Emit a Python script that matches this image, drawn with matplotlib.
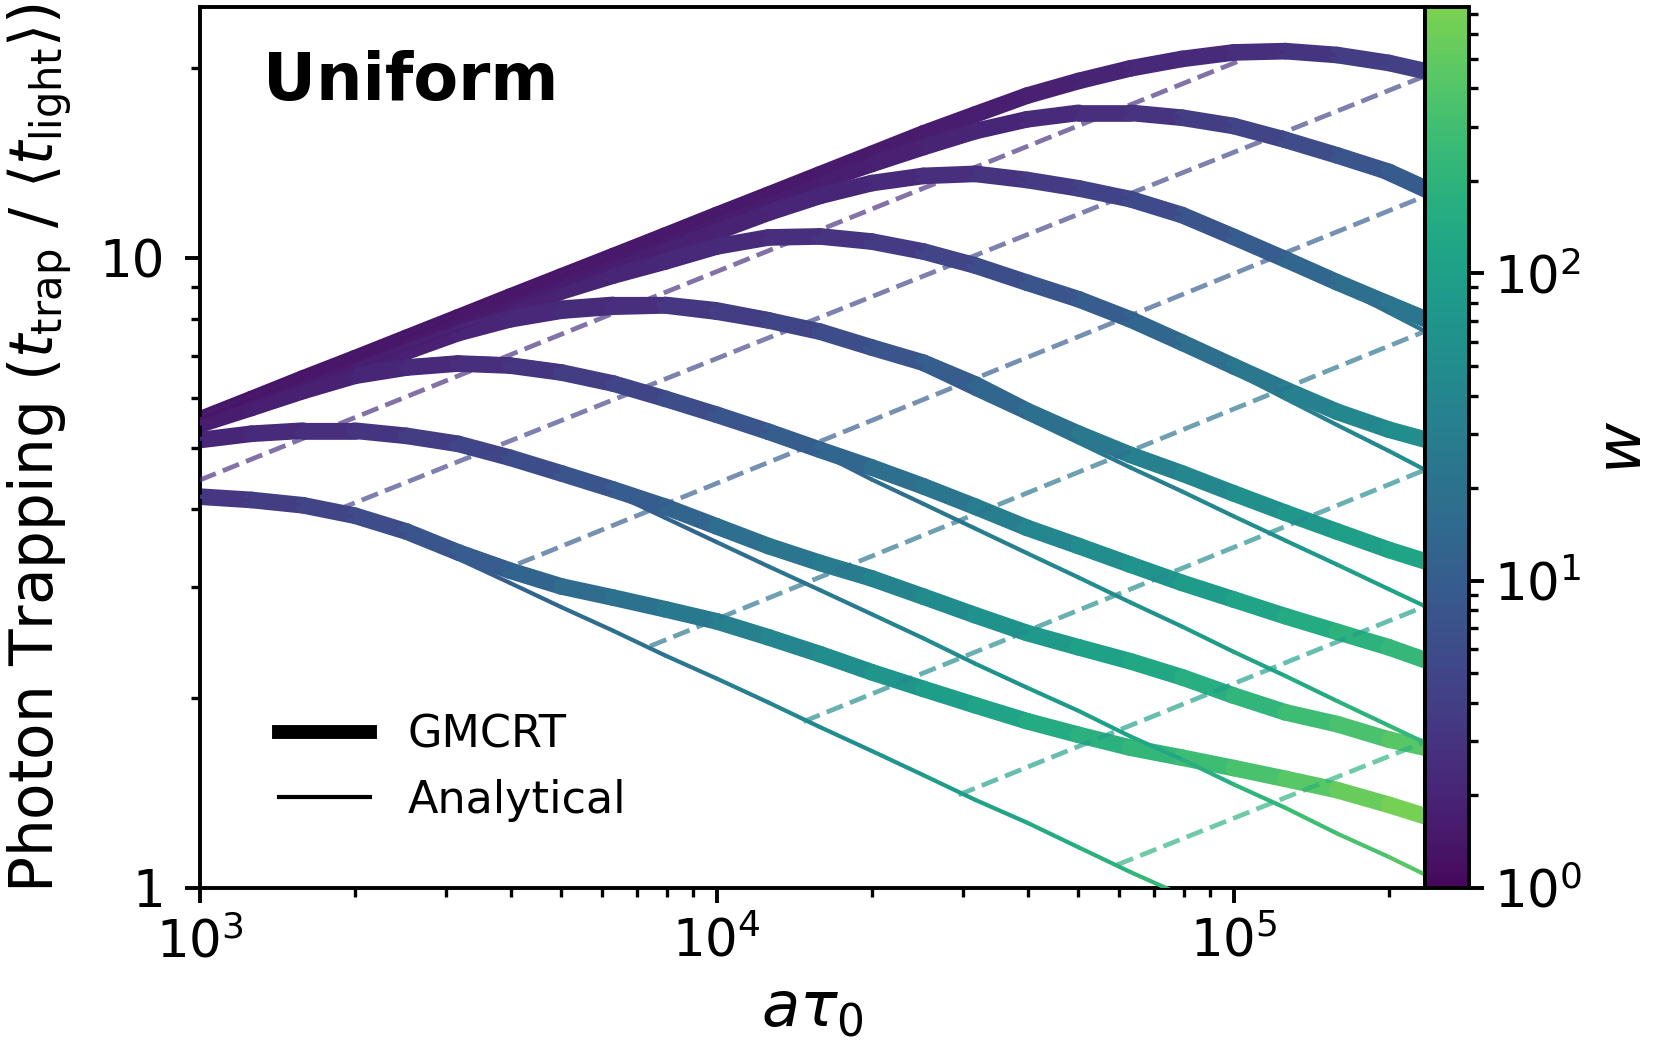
import numpy as np
import matplotlib
matplotlib.use('Agg')
import matplotlib.pyplot as plt
import matplotlib.ticker as ticker
from matplotlib.collections import LineCollection
from matplotlib.colors import LogNorm, ListedColormap
from matplotlib.lines import Line2D
from matplotlib.cm import ScalarMappable

plt.rcParams['mathtext.fontset'] = 'dejavusans'

# a*tau0 grid of the curves
a_tau = [1000, 1259, 1585, 1995, 2512, 3162, 3981, 5012, 6310, 7943,
         10000, 12589, 15849, 19953, 25119, 31623, 39811, 50119, 63096,
         79433, 100000, 125893, 158489, 199526, 234423]

# GMCRT curves (photon trapping)
gm_1 = [5.54, 5.97, 6.44, 6.93, 7.47, 8.05, 8.68, 9.35, 10.07, 10.85, 11.70, 12.60,
        13.58, 14.63, 15.77, 16.9, 18.1, 19.1, 20.0, 20.7, 21.2, 21.3, 21.0, 20.4, 19.8]
gm_2 = [5.52, 5.93, 6.39, 6.87, 7.40, 7.96, 8.57, 9.22, 9.92, 10.67, 11.48, 12.33,
        13.22, 14.1, 15.0, 15.9, 16.6, 17.0, 17.0, 16.7, 16.2, 15.4, 14.55, 13.7, 12.9]
gm_3 = [5.50, 5.90, 6.34, 6.80, 7.31, 7.85, 8.43, 9.05, 9.70, 10.28, 11.0, 11.8,
        12.55, 13.15, 13.5, 13.6, 13.3, 12.9, 12.4, 11.7, 10.8, 9.95, 9.15, 8.45, 8.0]
gm_4 = [5.48, 5.87, 6.29, 6.73, 7.2, 7.7, 8.28, 8.85, 9.38, 9.87, 10.43, 10.78,
        10.82, 10.62, 10.24, 9.73, 9.14, 8.6, 7.99, 7.34, 6.73, 6.18, 5.70, 5.34, 5.15]
gm_5 = [5.46, 5.83, 6.22, 6.65, 7.1, 7.6, 7.99, 8.25, 8.37, 8.41, 8.22, 7.96,
        7.64, 7.21, 6.82, 6.30, 5.72, 5.26, 4.87, 4.55, 4.23, 3.94, 3.68, 3.44, 3.30]
gm_6 = [5.44, 5.78, 6.15, 6.5, 6.7, 6.8, 6.75, 6.58, 6.32, 5.98, 5.64, 5.30,
        4.96, 4.65, 4.34, 4.03, 3.73, 3.49, 3.26, 3.05, 2.87, 2.70, 2.55, 2.41, 2.30]
gm_7 = [5.14, 5.26, 5.32, 5.32, 5.22, 5.07, 4.82, 4.55, 4.29, 4.03, 3.75, 3.49,
        3.28, 3.10, 2.90, 2.71, 2.54, 2.41, 2.29, 2.16, 2.02, 1.90, 1.82, 1.72, 1.67]
gm_8 = [4.18, 4.13, 4.05, 3.90, 3.68, 3.41, 3.19, 3.01, 2.89, 2.77, 2.65, 2.50,
        2.35, 2.20, 2.07, 1.95, 1.84, 1.75, 1.67, 1.61, 1.55, 1.49, 1.43, 1.355, 1.30]

# w along each curve
w_1 = [1.35, 1.36, 1.37, 1.38, 1.39, 1.40, 1.41, 1.42, 1.43, 1.45, 1.47, 1.49,
       1.52, 1.56, 1.62, 1.70, 1.80, 1.93, 2.08, 2.28, 2.51, 2.87, 3.39, 4.12, 4.81]
w_2 = [1.38, 1.39, 1.40, 1.42, 1.43, 1.45, 1.47, 1.50, 1.53, 1.57, 1.61, 1.66,
       1.72, 1.80, 1.90, 2.02, 2.20, 2.45, 2.84, 3.39, 4.13, 5.22, 6.67, 8.60, 10.6]
w_3 = [1.42, 1.44, 1.46, 1.49, 1.52, 1.56, 1.60, 1.65, 1.71, 1.80, 1.88, 1.97,
       2.08, 2.23, 2.47, 2.81, 3.37, 4.11, 5.09, 6.53, 8.72, 11.7, 15.7, 21.0, 25.6]
w_4 = [1.50, 1.53, 1.57, 1.61, 1.66, 1.72, 1.80, 1.90, 2.02, 2.15, 2.26, 2.45,
       2.80, 3.34, 4.11, 5.21, 6.73, 8.68, 11.5, 15.4, 20.9, 28.1, 37.6, 48.9, 57.7]
w_5 = [1.58, 1.62, 1.68, 1.75, 1.84, 1.95, 2.09, 2.27, 2.55, 2.91, 3.50, 4.28,
       5.32, 6.82, 8.71, 11.6, 16.0, 21.5, 28.6, 37.3, 49.1, 64.5, 84.4, 110, 131]
w_6 = [1.66, 1.74, 1.84, 1.96, 2.18, 2.45, 2.86, 3.45, 4.28, 5.47, 7.01, 9.06,
       11.8, 15.3, 20.0, 26.5, 35.2, 45.8, 59.8, 78.0, 100, 130, 166, 212, 255]
w_7 = [2.02, 2.23, 2.52, 2.90, 3.46, 4.21, 5.32, 6.82, 8.75, 11.3, 14.9, 19.6,
       25.3, 32.4, 42.2, 55.0, 71.5, 90.7, 115, 147, 192, 248, 309, 395, 461]
w_8 = [2.96, 3.48, 4.16, 5.14, 6.59, 8.74, 11.4, 14.6, 18.1, 22.6, 28.3, 36.3,
       46.8, 60.9, 78.5, 101, 130, 164, 206, 254, 313, 388, 483, 614, 732]

# analytical curves
an_1 = [5.54, 5.97, 6.44, 6.93, 7.47, 8.05, 8.68, 9.35, 10.07, 10.85, 11.70, 12.60,
        13.58, 14.63, 15.77, 16.9, 18.1, 19.1, 20.0, 20.7, 21.2, 21.3, 21.0, 20.4, 19.45]
an_2 = [5.52, 5.93, 6.39, 6.87, 7.40, 7.96, 8.57, 9.22, 9.92, 10.67, 11.48, 12.33,
        13.22, 14.1, 15.0, 15.9, 16.6, 17.0, 17.0, 16.7, 16.2, 15.4, 14.55, 13.33, 12.54]
an_3 = [5.50, 5.90, 6.34, 6.80, 7.31, 7.85, 8.43, 9.05, 9.70, 10.28, 11.0, 11.8,
        12.55, 13.15, 13.5, 13.6, 13.3, 12.9, 12.4, 11.7, 10.8, 9.95, 9.03, 8.19, 7.65]
an_4 = [5.48, 5.87, 6.29, 6.73, 7.2, 7.7, 8.3, 8.9, 9.45, 9.95, 10.5, 10.9,
        10.95, 10.75, 10.35, 9.8, 9.2, 8.62, 7.95, 7.25, 6.59, 5.98, 5.43, 4.94, 4.61]
an_5 = [5.47, 5.86, 6.28, 6.75, 7.25, 7.78, 8.2, 8.5, 8.62, 8.62, 8.45, 8.15,
        7.75, 7.27, 6.65, 6.08, 5.57, 5.09, 4.65, 4.26, 3.89, 3.56, 3.26, 2.98, 2.80]
an_6 = [5.45, 5.82, 6.22, 6.62, 6.85, 6.94, 6.9, 6.72, 6.44, 6.08, 5.72, 5.28,
        4.90, 4.45, 4.07, 3.72, 3.40, 3.11, 2.84, 2.60, 2.37, 2.17, 1.98, 1.81, 1.70]
an_7 = [5.16, 5.36, 5.43, 5.43, 5.32, 5.15, 4.88, 4.57, 4.23, 3.87, 3.54, 3.24,
        2.97, 2.72, 2.49, 2.27, 2.08, 1.91, 1.74, 1.60, 1.46, 1.34, 1.22, 1.12, 1.05]
an_8 = [4.18, 4.13, 4.05, 3.88, 3.63, 3.33, 3.05, 2.79, 2.56, 2.34, 2.15, 1.97,
        1.80, 1.65, 1.51, 1.38, 1.27, 1.16, 1.06, 0.974, 0.892]

# dashed lines of constant w
dash_x0 = [1000, 1856, 3729, 7435, 14720, 29360, 59430]
dash_y0 = [4.44, 3.99, 3.16, 2.42, 1.837, 1.405, 1.088]
dash_x1 = [104200, 234423, 234423, 234423, 234423, 234423, 234423]
dash_y1 = [20.67, 19.45, 12.54, 7.65, 4.61, 2.80, 1.706]
dash_w = [2.6, 4.6, 9.5, 22, 48, 100, 190]

gmcrt = [gm_1, gm_2, gm_3, gm_4, gm_5, gm_6, gm_7, gm_8]
analytic = [an_1, an_2, an_3, an_4, an_5, an_6, an_7, an_8]
w_all = [w_1, w_2, w_3, w_4, w_5, w_6, w_7, w_8]

cmap = ListedColormap(plt.cm.viridis(np.linspace(0.02, 0.8, 256)))
norm = LogNorm(vmin=1, vmax=734)


def colorline(ax, x, y, w, lw, z):
    x = np.asarray(x, float)
    y = np.asarray(y, float)
    w = np.asarray(w, float)
    pts = np.column_stack([x, y]).reshape(-1, 1, 2)
    segs = np.concatenate([pts[:-1], pts[1:]], axis=1)
    lc = LineCollection(segs, cmap=cmap, norm=norm, linewidths=lw, zorder=z,
                        capstyle='round', joinstyle='round')
    lc.set_array(np.sqrt(w[:-1] * w[1:]))
    ax.add_collection(lc)


fig = plt.figure(figsize=(8.295, 5.3), dpi=200)
ax = fig.add_axes([0.1203, 0.1623, 0.7387, 0.8308])
cax = fig.add_axes([0.859, 0.1623, 0.0265, 0.8308])

for y, w in zip(gmcrt, w_all):
    colorline(ax, a_tau, y, w, 6, 2)
for y, w in zip(analytic, w_all):
    colorline(ax, a_tau[:len(y)], y, w[:len(y)], 1.5, 3)

for i in range(len(dash_w)):
    ax.plot([dash_x0[i], dash_x1[i]], [dash_y0[i], dash_y1[i]], '--', lw=1.7,
            color=cmap(norm(dash_w[i])), alpha=0.68, zorder=4)

ax.set_xscale('log')
ax.set_yscale('log')
ax.set_xlim(1000, 234423)
ax.set_ylim(1, 25)
ax.yaxis.set_major_formatter(ticker.FuncFormatter(lambda v, p: '%g' % v))
ax.yaxis.set_minor_formatter(ticker.NullFormatter())
ax.tick_params(which='major', length=5.5, width=1.4, labelsize=18.5)
ax.tick_params(which='minor', length=3.4, width=1.2)
ax.tick_params(axis='x', which='major', pad=5)
ax.tick_params(axis='y', which='major', pad=7)
for s in ax.spines.values():
    s.set_linewidth(1.4)

ax.set_xlabel(r'$a\tau_0$', fontsize=22.5)
ax.set_ylabel(r'Photon Trapping $(t_{\rm trap}\ /\ \langle t_{\rm light}\rangle)$',
              fontsize=21.5, labelpad=9)
ax.text(0.052, 0.952, 'Uniform', transform=ax.transAxes, fontsize=23.5,
        fontweight='bold', ha='left', va='top')

handles = [Line2D([], [], color='k', lw=5), Line2D([], [], color='k', lw=1.5)]
ax.legend(handles, ['GMCRT', 'Analytical'], loc='lower left', frameon=False,
          fontsize=16, bbox_to_anchor=(0.032, 0.03), handlelength=2.05,
          handletextpad=0.85)

cbar = fig.colorbar(ScalarMappable(norm=norm, cmap=cmap), cax=cax)
cbar.minorticks_on()
cbar.outline.set_linewidth(1.4)
cax.tick_params(which='major', length=5.5, width=1.4, labelsize=18.5)
cax.tick_params(which='minor', length=3.4, width=1.2)
cbar.set_label(r'$w$', fontsize=22.5)

fig.savefig('out.png', dpi=200)
